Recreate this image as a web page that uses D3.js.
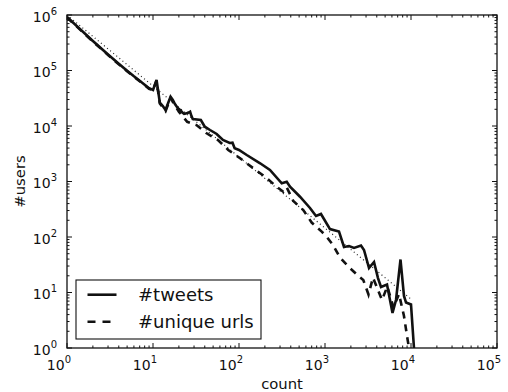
<!DOCTYPE html>
<html>
<head>
<meta charset="utf-8">
<script src="https://cdn.jsdelivr.net/npm/d3@7"></script>
<style>
  html, body { margin: 0; padding: 0; background: #fff; }
  svg { display: block; font-family: "DejaVu Sans", sans-serif; }
</style>
</head>
<body>
<svg id="chart" width="508" height="392"></svg>
<script>
// Distribution of activity per user (log-log)
const tweetsCount = [1,2,3,4,5,6,7,8,9,10,11,12,13,14,15,16,17,18,19,20,21,22,23,24,25,26,27,28,29,36,40,46,55,65,78,84,89,100,123,176,229,314,359,392,512,669,786,898,1143,1455,1663,1901,2174,2622,2841,3249,3714,4131,4479,5260,6095,6693,7550,8287,8750,10000,10830];
const tweetsUsers = [920000,340000,194000,132000,99000,78500,65300,55300,47900,44500,67400,26500,23000,19400,26000,33700,29400,24900,22000,20200,19000,17500,16500,16800,17100,17500,18100,15100,13400,12800,9710,8470,7180,5590,4940,5000,3965,3700,3000,2128,1611,928,991,806,532,333,239,260,139,125,66,68.9,63.4,70.3,58.3,27.6,35.4,18.2,12.6,13.9,4.27,7.33,39.3,8.65,6.6,6.08,1];

const urlsCount = [1,2,3,4,5,6,7,8,9,10,11,12,14,16,20,25,32,42,57,75,103,147,200,274,327,358,428,559,700,916,1047,1239,1494,1901,2420,2788,3206,3614,4600,5302,6260,7250,8287,9107,9480];
const urlsUsers = [900000,333000,190000,129000,97000,77000,64000,54200,46900,44000,66000,25500,18600,32000,18100,11900,10400,7390,5590,3700,2620,1730,1220,806,655,790,445,306,182,125,101,71.7,42.7,28.6,20.2,16.8,9.2,18.6,7.33,12.8,5.37,9.4,3.77,1.45,1];

// power-law reference line
const fitCount = [1, 10000];
const fitUsers = [1000000, 7.6];

const xExponents = [0,1,2,3,4,5];
const yExponents = [0,1,2,3,4,5,6];

const seriesNames = ["#tweets", "#unique urls"];
const xLabel = "count";
const yLabel = "#users";

const svg = d3.select("#chart");
const L = 67, R = 497, T = 15, B = 348;

const x = d3.scaleLog().domain([1, 1e5]).range([L, R]);
const y = d3.scaleLog().domain([1, 1e6]).range([B, T]);

svg.append("defs").append("clipPath").attr("id", "plotclip")
  .append("rect").attr("x", L).attr("y", T).attr("width", R - L).attr("height", B - T);

const plot = svg.append("g").attr("clip-path", "url(#plotclip)");

const line = d3.line().x(d => x(d[0])).y(d => y(d[1]));

plot.append("path")
  .datum(fitCount.map((c, i) => [c, fitUsers[i]]))
  .attr("d", line).attr("fill", "none")
  .attr("stroke", "#222").attr("stroke-width", 1.2).attr("stroke-dasharray", "1,3");

plot.append("path")
  .datum(urlsCount.map((c, i) => [c, urlsUsers[i]]))
  .attr("d", line).attr("fill", "none")
  .attr("stroke", "#111").attr("stroke-width", 2.6).attr("stroke-dasharray", "7,6");

plot.append("path")
  .datum(tweetsCount.map((c, i) => [c, tweetsUsers[i]]))
  .attr("d", line).attr("fill", "none")
  .attr("stroke", "#111").attr("stroke-width", 2.6).attr("stroke-linejoin", "miter");

// ticks on all four sides, pointing inwards
function minorTicks(maxExp) {
  const out = [];
  for (let e = 0; e < maxExp; e++) for (let k = 2; k <= 9; k++) out.push(k * Math.pow(10, e));
  return out;
}
const xMajor = xExponents.map(e => Math.pow(10, e));
const yMajor = yExponents.map(e => Math.pow(10, e));
const xMinor = minorTicks(5);
const yMinor = minorTicks(6);

const tickG = svg.append("g").attr("stroke", "#111").attr("stroke-width", 1);
function xt(vals, len) {
  vals.forEach(v => {
    tickG.append("line").attr("x1", x(v)).attr("x2", x(v)).attr("y1", B).attr("y2", B - len);
    tickG.append("line").attr("x1", x(v)).attr("x2", x(v)).attr("y1", T).attr("y2", T + len);
  });
}
function yt(vals, len) {
  vals.forEach(v => {
    tickG.append("line").attr("y1", y(v)).attr("y2", y(v)).attr("x1", L).attr("x2", L + len);
    tickG.append("line").attr("y1", y(v)).attr("y2", y(v)).attr("x1", R).attr("x2", R - len);
  });
}
xt(xMajor, 5); xt(xMinor, 2.5);
yt(yMajor, 5); yt(yMinor, 2.5);

// frame
svg.append("rect").attr("x", L).attr("y", T).attr("width", R - L).attr("height", B - T)
  .attr("fill", "none").attr("stroke", "#111").attr("stroke-width", 1.3);

// tick labels as 10^n
function powLabel(g, px, py, anchor, e) {
  const t = g.append("text").attr("x", px).attr("y", py).attr("text-anchor", anchor)
    .attr("font-size", 14).attr("fill", "#111");
  t.append("tspan").text("10");
  t.append("tspan").attr("dy", -7).attr("font-size", 10).text(String(e));
}
const labG = svg.append("g");
xExponents.forEach(e => powLabel(labG, x(Math.pow(10, e)) + 4, 369.5, "end", e));
yExponents.forEach(e => powLabel(labG, L - 10, y(Math.pow(10, e)) + 6.8, "end", e));

// axis titles
svg.append("text").attr("x", (L + R) / 2).attr("y", 389).attr("text-anchor", "middle")
  .attr("font-size", 14.8).attr("fill", "#111").text(xLabel);
svg.append("text").attr("transform", `translate(25,${(T + B) / 2}) rotate(-90)`)
  .attr("text-anchor", "middle").attr("font-size", 14.8).attr("fill", "#111").text(yLabel);

// legend
const leg = svg.append("g");
leg.append("rect").attr("x", 76).attr("y", 280).attr("width", 185).attr("height", 59)
  .attr("fill", "#fff").attr("stroke", "#111").attr("stroke-width", 1.1);
const rowsY = [294.7, 321.7];
const dashes = [null, "8,7"];
seriesNames.forEach((name, i) => {
  leg.append("line").attr("x1", 87.5).attr("x2", 116.5).attr("y1", rowsY[i]).attr("y2", rowsY[i])
    .attr("stroke", "#111").attr("stroke-width", 2.6).attr("stroke-dasharray", dashes[i]);
  leg.append("text").attr("x", 138).attr("y", rowsY[i] + 6.5)
    .attr("font-size", 18).attr("fill", "#111").text(name);
});
</script>
</body>
</html>
